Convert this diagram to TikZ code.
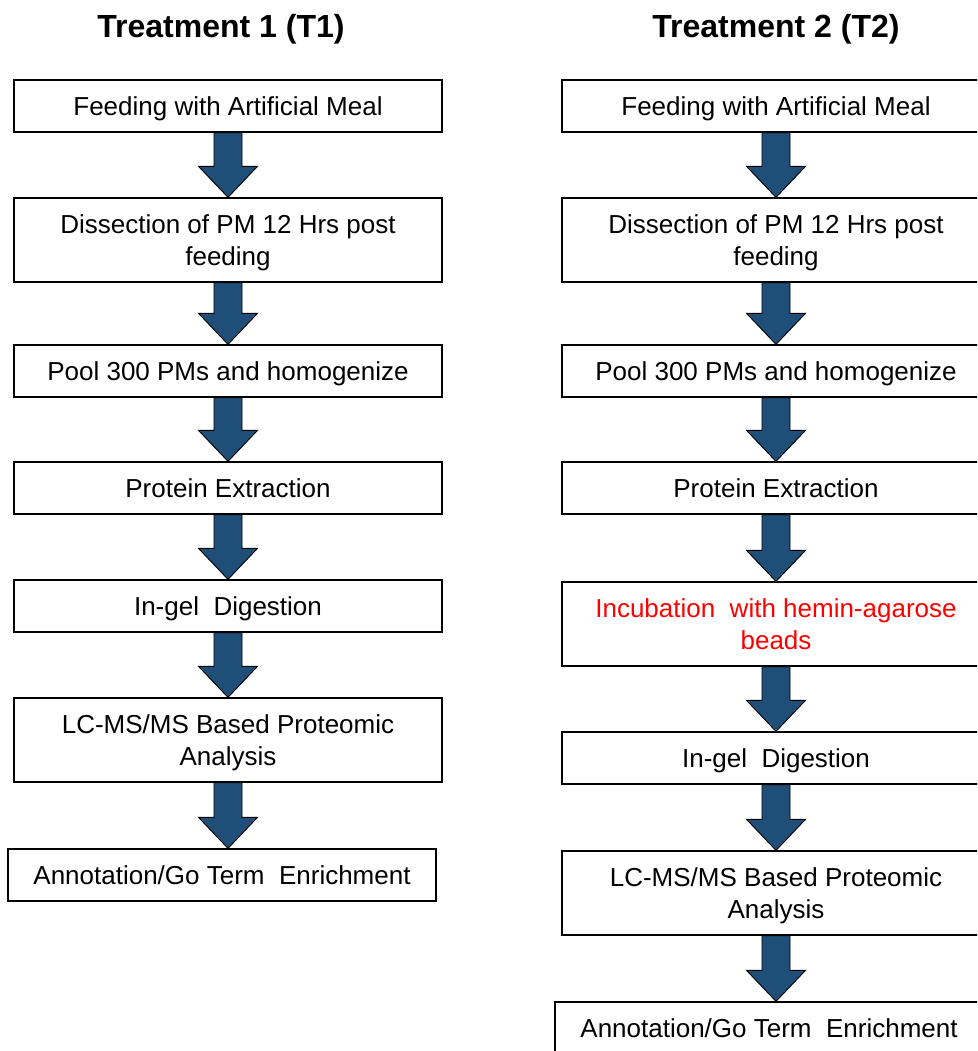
\documentclass[tikz,border=0pt]{standalone}
\usepackage{fontspec}
\setmainfont{Liberation Sans}
\usetikzlibrary{calc}
\definecolor{arrowblue}{RGB}{31,78,121}
\definecolor{stepred}{RGB}{255,0,0}
\tikzset{
  stepbox/.style={draw=black, line width=1.3pt, fill=white, minimum width=428pt, inner sep=0pt, align=center, font=\fontsize{26}{32}\selectfont},
  onebox/.style={stepbox, minimum height=52pt, text height=19pt, text depth=0pt},
  twobox/.style={stepbox, minimum height=84pt, text height=51pt, text depth=0pt},
  title/.style={font=\fontsize{32}{36}\selectfont\bfseries},
  flowarrow/.style={draw=black, line width=0.9pt, fill=arrowblue, line join=miter},
}
\newcommand\flowarr[2]{%
  \draw[flowarrow] let \p1=(#1.south), \p2=(#2.north) in
    (\x1-14pt,\y1) -- (\x1+14pt,\y1) -- (\x1+14pt,\y2+31pt) -- (\x1+29.5pt,\y2+31pt)
    -- (\x1,\y2) -- (\x1-29.5pt,\y2+31pt) -- (\x1-14pt,\y2+31pt) -- cycle;}
\begin{document}
\begin{tikzpicture}[x=1pt,y=-1pt]
\useasboundingbox (0,0) rectangle (977,1051);
\clip (0,0) rectangle (977,1051);
\fill[white] (0,0) rectangle (977,1051);
% titles
\node[title] (t1) at (221,29) {Treatment 1 (T1)};
\node[title] (t2) at (776,29) {Treatment 2 (T2)};
% left column
\node[onebox] (a1) at (228,106) {Feeding with Artificial Meal};
\node[twobox] (a2) at (228,240) {Dissection of PM 12 Hrs post\\feeding};
\node[onebox] (a3) at (228,371) {Pool 300 PMs and homogenize};
\node[onebox] (a4) at (228,488) {Protein Extraction};
\node[onebox] (a5) at (228,606) {In-gel\ \ Digestion};
\node[twobox] (a6) at (228,740) {LC-MS/MS Based Proteomic\\Analysis};
\node[onebox] (a7) at (222,875) {Annotation/Go Term\ \ Enrichment};
\flowarr{a1}{a2}
\flowarr{a2}{a3}
\flowarr{a3}{a4}
\flowarr{a4}{a5}
\flowarr{a5}{a6}
\flowarr{a6}{a7}
% right column
\node[onebox] (b1) at (776,106) {Feeding with Artificial Meal};
\node[twobox] (b2) at (776,240) {Dissection of PM 12 Hrs post\\feeding};
\node[onebox] (b3) at (776,371) {Pool 300 PMs and homogenize};
\node[onebox] (b4) at (776,488) {Protein Extraction};
\node[twobox, text=stepred] (b5) at (776,624) {Incubation\ \ with hemin-agarose\\beads};
\node[onebox] (b6) at (776,758) {In-gel\ \ Digestion};
\node[twobox] (b7) at (776,893) {LC-MS/MS Based Proteomic\\Analysis};
\node[onebox] (b8) at (769,1028) {Annotation/Go Term\ \ Enrichment};
\flowarr{b1}{b2}
\flowarr{b2}{b3}
\flowarr{b3}{b4}
\flowarr{b4}{b5}
\flowarr{b5}{b6}
\flowarr{b6}{b7}
\flowarr{b7}{b8}
\end{tikzpicture}
\end{document}
